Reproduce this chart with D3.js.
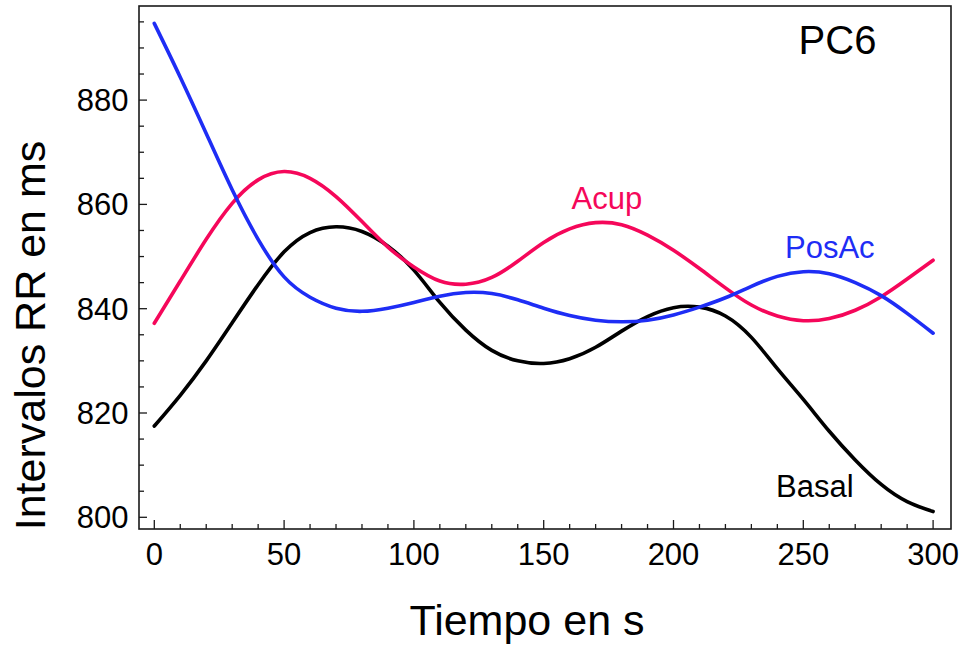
<!DOCTYPE html>
<html>
<head>
<meta charset="utf-8">
<script src="https://cdn.jsdelivr.net/npm/d3@7"></script>
<style>
  html, body { margin: 0; padding: 0; background: #fff; }
  svg { display: block; font-family: "Liberation Sans", Arial, Helvetica, sans-serif; }
</style>
</head>
<body>
<svg id="chart" width="964" height="647"></svg>
<script>
// ---- Data ----
const times = [0,10,20,30,40,50,60,70,80,90,100,110,120,130,140,150,160,170,180,190,200,210,220,230,240,250,260,270,280,290,300];
const basal = [817.5,823.4,830.0,837.3,844.6,850.9,854.6,855.7,854.8,852.0,847.4,841.2,835.9,832.0,830.0,829.5,830.4,832.6,835.7,838.5,840.2,840.3,838.6,834.5,828.5,822.6,816.5,811.0,806.3,803.0,801.1];
const acup = [837.2,845.3,853.3,860.2,864.7,866.3,865.0,861.5,856.7,851.8,848.0,845.3,844.7,846.0,849.1,852.7,855.3,856.5,856.1,854.1,851.2,847.7,844.0,840.7,838.6,837.7,838.1,839.7,842.3,845.7,849.3];
const posac = [894.7,884.4,873.6,862.8,853.3,846.1,842.2,840.1,839.5,840.1,841.2,842.4,843.1,842.9,841.7,840.1,838.7,837.8,837.5,837.8,838.8,840.3,842.1,844.3,846.2,847.1,846.7,845.0,842.5,839.1,835.3];
const seriesNames = ["Basal", "Acup", "PosAc"];
const seriesColors = ["#000000", "#f5075a", "#1e2df5"];
const xTicks = [0,50,100,150,200,250,300];
const yTicks = [800,820,840,860,880];
const panelLabel = "PC6";
const xTitle = "Tiempo en s";
const yTitle = "Intervalos RR en ms";

// ---- Layout ----
const frame = {left: 139, right: 951, top: 6, bottom: 529};
const svg = d3.select("#chart");

const x = d3.scaleLinear().domain([0, 300]).range([154.3, 933.1]);
const y = d3.scaleLinear().domain([800, 880]).range([517.3, 100.1]);

// Frame
svg.append("rect")
  .attr("x", frame.left).attr("y", frame.top)
  .attr("width", frame.right - frame.left).attr("height", frame.bottom - frame.top)
  .attr("fill", "none").attr("stroke", "#1a1a1a").attr("stroke-width", 1.6);

// X axis ticks (inward)
const xMinor = d3.range(0, 301, 10);
svg.append("g").selectAll("line").data(xMinor).join("line")
  .attr("x1", d => x(d)).attr("x2", d => x(d))
  .attr("y1", frame.bottom).attr("y2", d => frame.bottom - (d % 50 === 0 ? 9 : 5))
  .attr("stroke", "#1a1a1a").attr("stroke-width", 1.3);
svg.append("g").selectAll("text").data(xTicks).join("text")
  .attr("x", d => x(d)).attr("y", 565)
  .attr("text-anchor", "middle").attr("font-size", 31).attr("fill", "#000")
  .text(d => d);

// Y axis ticks (inward)
const yMinor = d3.range(800, 896, 5);
svg.append("g").selectAll("line").data(yMinor).join("line")
  .attr("y1", d => y(d)).attr("y2", d => y(d))
  .attr("x1", frame.left).attr("x2", d => frame.left + (d % 20 === 0 ? 8 : 5))
  .attr("stroke", "#1a1a1a").attr("stroke-width", 1.3);
svg.append("g").selectAll("text").data(yTicks).join("text")
  .attr("x", 128.5).attr("y", d => y(d) + 11)
  .attr("text-anchor", "end").attr("font-size", 31).attr("fill", "#000")
  .text(d => d);

// Axis titles
svg.append("text").attr("x", 527).attr("y", 635)
  .attr("text-anchor", "middle").attr("font-size", 43).text(xTitle);
svg.append("text")
  .attr("transform", "translate(45,335.5) rotate(-90)")
  .attr("text-anchor", "middle").attr("font-size", 43).text(yTitle);

// Lines
const line = d3.line()
  .x((d, i) => x(times[i]))
  .y(d => y(d))
  .curve(d3.curveNatural);

const allSeries = [basal, acup, posac];
svg.append("g").selectAll("path").data(allSeries).join("path")
  .attr("d", d => line(d))
  .attr("fill", "none")
  .attr("stroke", (d, i) => seriesColors[i])
  .attr("stroke-width", 3.6)
  .attr("stroke-linecap", "round")
  .attr("stroke-linejoin", "round");

// Series labels
const labelPos = [
  {x: 776, y: 496.7},
  {x: 571.5, y: 209.3},
  {x: 785, y: 258.3}
];
svg.append("g").selectAll("text").data(seriesNames).join("text")
  .attr("x", (d, i) => labelPos[i].x).attr("y", (d, i) => labelPos[i].y)
  .attr("font-size", 31).attr("fill", (d, i) => seriesColors[i])
  .text(d => d);

// Panel label
svg.append("text").attr("x", 837.5).attr("y", 54.3)
  .attr("text-anchor", "middle").attr("font-size", 40).attr("fill", "#000")
  .text(panelLabel);
</script>
</body>
</html>
